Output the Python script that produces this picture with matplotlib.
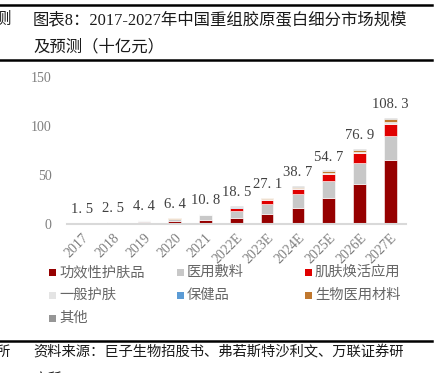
import matplotlib.pyplot as plt
import numpy as np
from matplotlib.lines import Line2D
from matplotlib.patches import Rectangle

plt.rcParams['font.family'] = ['Liberation Serif', 'Noto Sans CJK SC']

years = ['2017', '2018', '2019', '2020', '2021', '2022E', '2023E', '2024E', '2025E', '2026E', '2027E']
totals = [1.5, 2.5, 4.4, 6.4, 10.8, 18.5, 27.1, 38.7, 54.7, 76.9, 108.3]

names = ['功效性护肤品', '医用敷料', '肌肤焕活应用', '一般护肤', '保健品', '生物医用材料', '其他']
func = [0.3, 0.6, 1.8, 2.8, 4.4, 6.5, 10.5, 16.6, 26.5, 41.0, 65.0]
dressing = [0.5, 0.9, 1.5, 2.2, 4.6, 7.1, 10.2, 13.7, 17.3, 21.4, 25.2]
rejuv = [0.05, 0.05, 0.1, 0.2, 0.5, 2.4, 3.8, 5.4, 6.8, 9.6, 12.2]
general = [0.3, 0.4, 0.4, 0.5, 0.4, 0.9, 0.9, 0.9, 1.2, 1.3, 1.5]
health = [0.05, 0.05, 0.05, 0.05, 0.1, 0.1, 0.1, 0.1, 0.2, 0.2, 0.3]
biomat = [0.2, 0.3, 0.35, 0.4, 0.5, 0.9, 1.0, 1.3, 1.8, 2.4, 2.9]
other = [0.1, 0.2, 0.2, 0.25, 0.3, 0.6, 0.6, 0.7, 0.9, 1.0, 1.2]
series = [func, dressing, rejuv, general, health, biomat, other]
colors = ['#960000', '#C8C8C8', '#E00000', '#E4E4E4', '#5B9BD5', '#C0782F', '#969696']

fig = plt.figure(figsize=(4.34, 3.73), dpi=100)
ax = fig.add_axes([0.154, 0.399, 0.781, 0.395])

x = np.arange(len(years))
bottom = np.zeros(len(years))
for vals, c in zip(series, colors):
    ax.bar(x, vals, 0.41, bottom=bottom, color=c, edgecolor='white', linewidth=0.4)
    bottom += np.array(vals)

for xi, t in zip(x, totals):
    ax.annotate(f'{t}'.replace('.', '. '), (xi, t), xytext=(0, 5), textcoords='offset points',
                ha='center', va='bottom', fontsize=10.5, color='#404040')

ax.set_xlim(-0.5, 10.5)
ax.set_ylim(0, 150)
ax.set_yticks([0, 50, 100, 150])
ax.set_xticks(x)
ax.set_xticklabels(years, rotation=45, ha='right', rotation_mode='anchor')
ax.tick_params(axis='both', length=0, labelsize=10, colors='#7F7F7F')
ax.tick_params(axis='y', pad=11)
ax.tick_params(axis='x', pad=5)
for s in ['top', 'right', 'left']:
    ax.spines[s].set_visible(False)
ax.spines['bottom'].set_color('#D9D9D9')
ax.spines['bottom'].set_linewidth(1.5)

# legend, 3 columns in row order
W, H = 434.0, 373.0
for i, (n, c) in enumerate(zip(names, colors)):
    col, row = i % 3, i // 3
    mx = 49 + col * 128
    my = 272 + row * 23
    fig.add_artist(Rectangle((mx / W, 1 - (my + 3.5) / H), 7 / W, 7 / H,
                             transform=fig.transFigure, color=c, lw=0))
    fig.text((mx + 10) / W, 1 - my / H, n, fontsize=10.3, color='#666666', va='center',
             family=['Noto Sans CJK SC'])

# page frame lines
for yy in [5, 59.5, 340.5]:
    fig.add_artist(Line2D([0, 0.995], [1 - yy / H] * 2, transform=fig.transFigure,
                          color='black', lw=1.8))

fig.text(33 / W, 1 - 20 / H, '图表8：2017-2027年中国重组胶原蛋白细分市场规模', fontsize=11.8,
         color='#1A1A1A', va='center')
fig.text(33 / W, 1 - 47 / H, '及预测（十亿元）', fontsize=11.8, color='#1A1A1A', va='center')
fig.text(-6 / W, 1 - 20 / H, '测', fontsize=11.8, color='#1A1A1A', va='center')

fig.text(33 / W, 1 - 352 / H, '资料来源：巨子生物招股书、弗若斯特沙利文、万联证券研', fontsize=10.3,
         color='#1A1A1A', va='center')
fig.text(33 / W, 1 - 379 / H, '究所', fontsize=10.3, color='#1A1A1A', va='center')
fig.text(-4 / W, 1 - 352 / H, '所', fontsize=10.3, color='#1A1A1A', va='center')

plt.savefig('out.png', dpi=100)
